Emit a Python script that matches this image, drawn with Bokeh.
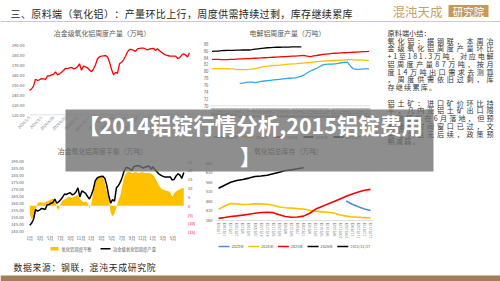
import numpy as np
from bokeh.plotting import figure
from bokeh.models import Range1d
from bokeh.core.properties import value
from bokeh.embed import file_html
from bokeh.resources import INLINE

FONT = value("Noto Sans CJK SC")
nan = float("nan")

# ---------------- texts ----------------
header_title = "三、原料端（氧化铝）：产量环比上行，周度供需持续过剩，库存继续累库"
logo_text = "混沌天成"
logo_box_text = "研究院"
source_note = "数据来源：钢联，混沌天成研究院"
banner_lines = ["【2014铝锭行情分析,2015铝锭费用", "】"]
summary_title = "原料端小结："
summary_lines = [
    ("氧化铝：据钢联，本周冶", True),
    ("金级氧化铝周度产量环比", True),
    ("+1至181.3万吨，对应电解", True),
    ("铝周度产量87万吨，按月", True),
    ("度14万吨出口需求去测算", True),
    ("，周度供需依旧过剩，库", True),
    ("存继续累库。", False),
    ("", False),
    ("铝土矿：进口矿价环比持", True),
    ("平，几内亚铝土矿出口限", True),
    ("制政策拟在6月落地，但预", True),
    ("期落地时间窗口已过，文", True),
    ("易日久且无后续，政策预", True),
    ("期减弱。", False),
]

# ---------------- chart 1: weekly metallurgical alumina output ----------------
c1_title = "冶金级氧化铝周度产量（万吨）"
c1_output = [144.3, 145.8, 148.7, 155.5, 154.3, 155.0, 156.2, 156.0, 155.5, 158.8,
             159.0, 160.0, 160.5, 163.0, 160.0, 161.0, 162.5, 164.3, 166.5, 166.2,
             167.0, 167.5, 166.0, 166.5, 168.0, 171.0, 164.5, 168.7, 168.0, 167.0,
             164.8, 163.0, 166.0, 170.0, 176.0, 178.0, 178.7, 179.0, 179.3, 177.7,
             172.7, 165.5, 160.0, 162.5, 161.5, 171.0, 172.5, 175.0, 178.5, 183.0,
             185.5, 185.3, 184.5, 183.5, 186.0, 186.5, 186.7, 186.7, 185.8, 185.0,
             185.8, 186.2, 186.5, 184.3, 186.0, 184.0, 182.5, 181.0, 180.0, 179.3,
             178.8, 178.7, 178.7, 178.7, 176.5, 177.0, 179.5, 181.0, 180.0, 177.8,
             182.0]
c1_yticks = [120, 130, 140, 150, 160, 170, 180, 190]
c1_xtick_idx = [0, 6, 12, 18, 24, 30, 36, 42, 48, 54, 60, 66, 72, 78]
c1_xtick_labels = ["2024/1/5", "2024/3/1", "2024/4/26", "2024/6/21", "2024/8/16",
                   "2024/10/11", "2024/12/6", "2025/1/31", "2025/3/28", "2025/5/23",
                   "2025/7/18", "2025/9/12", "2025/11/7", "2026/1/2"]

# ---------------- chart 2: weekly electrolytic aluminium output ----------------
c2_title = "电解铝周度产量（万吨）"
c2_weeks = list(range(1, 53))
c2_week_labels = ["第%d周" % w for w in c2_weeks]
c2_2023 = [nan] * 9 + [76.5, 76.6, 76.8, 76.85, 76.9, 76.7, 76.9, 77.1, 77.2, 77.3,
                       77.4, 77.5, 77.6, 77.7, 77.8, 77.9, 78.0, 78.05, 78.1, 78.3,
                       78.6, 79.0, 79.6, 80.1, 80.5, 80.9, 81.4, 81.9, 82.0, 82.1,
                       82.1, 82.2, 82.3, 82.5, 82.6, 82.7, 81.5, 80.7, 80.6, 80.6,
                       80.7, 80.7, 80.7]
c2_2024 = [80.7, 80.75, 80.8, 80.8, 80.8, 80.75, 80.7, 80.7, 80.5, 80.5,
           80.5, 80.5, 80.55, 80.65, 80.8, 81.0, 81.2, 81.35, 81.5, 81.6,
           81.7, 81.75, 81.8, 81.9, 82.0, 82.1, 82.15, 82.2, 82.3, 82.35,
           82.45, 82.5, 82.6, 82.7, 82.8, 82.9, 83.0, 83.05, 83.1, 83.1,
           83.15, 83.2, 83.25, 83.3, 83.4, 83.4, 83.35, 83.3, 83.3, 83.25,
           83.2, 83.1]
c2_2025 = [83.5, 83.5, 83.45, 83.4, 83.4, 83.4, 83.45, 83.5, 83.55, 83.6,
           83.65, 83.7, 83.7, 83.75, 83.8, 83.85, 83.9, 83.95, 84.0, 84.05,
           84.1, 84.15, 84.2, 84.25, 84.3, 84.35, 84.4, 84.45, 84.5, 84.55,
           84.6, 84.4, 84.3, 84.5, 84.6, 84.75, 84.9, 85.0, 85.1, 85.2,
           85.25, 85.3, 85.35, 85.4, 85.45, 85.5, 85.55, 85.6, 85.65, 85.7,
           85.75, 85.8]
c2_2026 = [85.8, 85.85, 85.9, 86.0, 86.05, 86.1, 86.1, 86.1, 86.15, 86.15,
           86.2, 86.2, 86.2, 86.3, 86.45, 86.55, 86.65, 86.75, 86.85, 86.9,
           86.95, 87.0, 87.0, 87.05, 87.05, 87.05, 87.1, 87.1, 87.1, 87.1] + [nan] * 22
c2_yticks = [70, 72, 74, 76, 78, 80, 82, 84, 86, 88]
c2_legend = ["2023年", "2024年", "2025年", "2026年", "2023-2月"]

# ---------------- chart 3: weekly balance ----------------
c3_title = "冶金氧化铝周度平衡（万吨）"
c3_balance = [-5, -7.5, -7, -3, 1.5, 2, 2, 1.5, 2, 2.5,
              3, 3.5, 4, 3, -1, -2.5, 1, 3, 3.5, 4,
              5, 4.8, 4.5, 5, 5.5, 6, 4, 2.8, 2, 2.5,
              1.5, -1.5, 1, 8.5, 12.5, 15.5, 16.8, 17, 16, 13,
              8, 4, -4, -6, -4.5, -1, 3, 5.5, 11, 16,
              18.5, 19, 19, 18.5, 18.7, 19, 18.7, 18.5, 19, 18.8,
              18.5, 18.5, 18.5, 18.2, 17.5, 16, 13.8, 11.5, 10.2, 9.2,
              8.8, 8.5, 8.2, 7.5, 5, 7, 8, 8.8, 9.3, 9.8,
              10]
c3_left_ticks = [140, 145, 150, 155, 160, 165, 170, 175, 180, 185, 190]
c3_right_ticks = [-15, -10, -5, 0, 5, 10, 15, 20, 25]
c3_month_pos = [0, 2, 4, 6, 8, 10, 12, 14, 16, 18, 20, 22, 24, 26, 28]
c3_month_labels = ["1月", "3月", "5月", "7月", "9月", "11月",
                   "1月", "3月", "5月", "7月", "9月", "11月",
                   "1月", "3月", "5月"]
c3_legend = ["氧化铝周度平衡", "冶金级氧化铝周度产量"]

# ---------------- chart 4: total alumina inventory ----------------
c4_title = "氧化铝总库存（万吨）"
c4_dates = ["1月5日", "1月19日", "2月2日", "2月16日", "3月2日", "3月16日", "3月30日",
            "4月13日", "4月27日", "5月11日", "5月25日", "6月8日", "6月22日", "7月6日",
            "7月20日", "8月3日", "8月17日", "8月31日", "9月14日", "9月28日", "10月12日",
            "10月26日", "11月9日", "11月23日", "12月7日", "12月21日"]
c4_2023 = [nan] * 21 + [462, 445, 432, 420, 412]
c4_2024 = [418, 436, 449, 447, 444, 445, 447, 447, 445, 440, 431, 427, 425, 422, 420,
           414, 409, 405, 403, 399, 389, 383, 379, 377, 375, 373]
c4_2025 = [371, 376, 381, 384, 388, 393, 398, 402, 403, 401, 390, 381, 377, 378, 383,
           398, 420, 433, 447, 459, 473, 487, 499, 509, 518, 523]
c4_2026 = [529, 545, 560, 569, 575, 582, 590, 593, 597, 605, 613, 622, 625, 631, 636] + [nan] * 11
c4_yticks = [360, 410, 460, 510, 560, 610, 660]
c4_legend = ["2023年", "2024年", "2025年", "2026年", "2023/11/17"]

# ---------------- helpers ----------------
def char_em(c):
    if ord(c) >= 0x2E80 or c in "，：。、（）【】":
        return 1.0
    if c in ".,":
        return 0.28
    return 0.56


def spaced(text, x0, y, fs, width=None, spacing=0.0):
    ws = [char_em(c) * fs for c in text]
    if width is not None and len(text) > 1:
        spacing = (width - sum(ws)) / (len(text) - 1)
    xs, x = [], x0
    for w in ws:
        xs.append(x)
        x += w + spacing
    return xs, [y] * len(text), list(text)


def txt(target, x, y, t, size, color="#404040", align="left", baseline="middle",
        angle=0.0, bold=False, x_offset=0, y_offset=0):
    target.text(x=x, y=y, text=t, text_font=FONT, text_font_size=f"{size}px",
                text_color=color, text_align=align, text_baseline=baseline, angle=angle,
                text_font_style="bold" if bold else "normal",
                x_offset=x_offset, y_offset=y_offset)


AX = "#595959"

p = figure(width=500, height=281, x_range=Range1d(0, 500), y_range=Range1d(281, 0),
           output_backend="svg", toolbar_location=None, min_border=0,
           x_axis_location=None, y_axis_location=None)
p.grid.visible = False
p.outline_line_color = None
p.background_fill_color = "white"
p.border_fill_color = "white"

# ---------------- slide frame ----------------
hx, hy, hc = spaced(header_title, 10, 13.3, 10, width=342)
txt(p, hx, hy, hc, 10, "#262626")
p.segment(x0=[0], y0=[21], x1=[500], y1=[21], line_color="#dcc9a6", line_width=1)
txt(p, [392], [11], [logo_text], 12.5, "#c9a063")
p.quad(left=[448], right=[488], top=[4.5], bottom=[16.5], fill_color="#c49a5c", line_color=None)
txt(p, [468], [10.8], [logo_box_text], 10.5, "white", align="center")
p.quad(left=[0], right=[500], top=[275], bottom=[281], fill_color="#a08055", line_color=None)
sx, sy, sc = spaced(source_note, 13, 267, 8.8, width=142)
txt(p, sx, sy, sc, 8.8, "#262626")

# ---------------- chart 1 ----------------
n1 = len(c1_output)
c1_x = list(range(n1))
s1 = p.subplot(x_source=Range1d(0, n1 - 1), y_source=Range1d(c1_yticks[0], c1_yticks[-1]),
               x_target=Range1d(29, 189), y_target=Range1d(114.3, 44.3))
txt(p, [101.6], [32.3], [c1_title], 6.9, AX, align="center")
s1.segment(x0=[0], y0=[c1_yticks[0]], x1=[n1 - 1], y1=[c1_yticks[0]],
           line_color="#d9d9d9", line_width=0.8)
s1.line(c1_x, c1_output, line_color="#ff0000", line_width=1.3)
txt(s1, [0] * len(c1_yticks), c1_yticks, ["%.2f" % v for v in c1_yticks], 4.2, AX,
    align="right", x_offset=-5)
txt(s1, c1_xtick_idx, [c1_yticks[0]] * len(c1_xtick_idx), c1_xtick_labels, 3.8, "#7f7f7f",
    align="right", angle=np.pi / 4, y_offset=2)

# ---------------- chart 2 ----------------
s2 = p.subplot(x_source=Range1d(0.5, 52.5), y_source=Range1d(c2_yticks[0], c2_yticks[-1]),
               x_target=Range1d(210, 370), y_target=Range1d(105.3, 43.3))
txt(p, [287], [32], [c2_title], 6.9, AX, align="center")
s2.segment(x0=[0.5], y0=[c2_yticks[0]], x1=[52.5], y1=[c2_yticks[0]],
           line_color="#d9d9d9", line_width=0.8)
c2_colors = ["#2ea8e6", "#ffc000", "#ff0000", "#000000"]
for ser, col in zip([c2_2023, c2_2024, c2_2025, c2_2026], c2_colors):
    s2.line(c2_weeks, ser, line_color=col, line_width=1.3)
txt(s2, [0.5] * len(c2_yticks), c2_yticks, [str(v) for v in c2_yticks], 4.3, AX,
    align="right", x_offset=-2)
txt(s2, c2_weeks, [c2_yticks[0]] * 52, c2_week_labels, 3.3, "#7f7f7f",
    align="right", angle=np.pi / 2, y_offset=2)
for i, (lab, col) in enumerate(zip(c2_legend, c2_colors + ["#000000"])):
    lx = 213 + 30 * i
    p.segment(x0=[lx], y0=[136.5], x1=[lx + 10], y1=[136.5], line_color=col, line_width=1.3)
    txt(p, [lx + 12], [136.5], [lab], 3.8, AX)

# ---------------- chart 3 ----------------
n3 = len(c3_balance)
c3_x = list(range(n3))
s3l = p.subplot(x_source=Range1d(0, n3 - 1), y_source=Range1d(c3_left_ticks[0], c3_left_ticks[-1]),
                x_target=Range1d(29.3, 183.3), y_target=Range1d(230.7, 160.7))
s3r = p.subplot(x_source=Range1d(0, n3 - 1), y_source=Range1d(c3_right_ticks[0], c3_right_ticks[-1]),
                x_target=Range1d(29.3, 183.3), y_target=Range1d(231.7, 161.0))
s3m = p.subplot(x_source=Range1d(0, 30.1), y_source=Range1d(c3_left_ticks[0], c3_left_ticks[-1]),
                x_target=Range1d(29.3, 183.3), y_target=Range1d(230.7, 160.7))
txt(p, [102], [150], [c3_title], 6.9, AX, align="center")
s3r.varea(x=c3_x, y1=[0] * n3, y2=c3_balance, fill_color="#ffc000")
s3l.line(c3_x, c1_output, line_color="#000000", line_width=1.5)
txt(s3l, [0] * len(c3_left_ticks), c3_left_ticks, ["%.2f" % v for v in c3_left_ticks], 4.2, AX,
    align="right", x_offset=-6)
txt(s3r, [n3 - 1] * len(c3_right_ticks), c3_right_ticks,
    [("(%d)" % -v) if v < 0 else str(v) for v in c3_right_ticks], 4.2,
    ["#ff0000" if v < 0 else AX for v in c3_right_ticks], align="left", x_offset=4)
txt(s3m, c3_month_pos, [c3_left_ticks[0]] * len(c3_month_pos), c3_month_labels, 4.2, AX,
    align="center", y_offset=7)
p.quad(left=[50], right=[58], top=[246.5], bottom=[250], fill_color="#ffc000", line_color=None)
txt(p, [61], [248.3], [c3_legend[0]], 4.3, AX)
p.segment(x0=[100], y0=[248.3], x1=[110], y1=[248.3], line_color="#000000", line_width=1.5)
txt(p, [112.5], [248.3], [c3_legend[1]], 4.3, AX)

# ---------------- chart 4 ----------------
n4 = len(c4_dates)
c4_x = list(range(n4))
s4 = p.subplot(x_source=Range1d(-0.5, n4 - 0.5), y_source=Range1d(c4_yticks[0], c4_yticks[-1]),
               x_target=Range1d(215, 373), y_target=Range1d(220, 162.7))
txt(p, [288], [150], [c4_title], 6.9, AX, align="center")
s4.segment(x0=[-0.5], y0=[c4_yticks[0]], x1=[n4 - 0.5], y1=[c4_yticks[0]],
           line_color="#d9d9d9", line_width=0.8)
c4_colors = ["#4a90d9", "#ffc000", "#ff0000", "#000000"]
for ser, col in zip([c4_2023, c4_2024, c4_2025, c4_2026], c4_colors):
    s4.line(c4_x, ser, line_color=col, line_width=1.6)
txt(s4, [-0.5] * len(c4_yticks), c4_yticks, [str(v) for v in c4_yticks], 4.1, AX,
    align="right", x_offset=-3)
txt(s4, c4_x, [c4_yticks[0]] * n4, c4_dates, 3.8, "#7f7f7f",
    align="right", angle=np.pi / 2, y_offset=2)
for i, (lab, col) in enumerate(zip(c4_legend, c4_colors + ["#000000"])):
    lx = 218 + 29.7 * i
    p.segment(x0=[lx], y0=[246], x1=[lx + 11], y1=[246], line_color=col, line_width=1.3)
    txt(p, [lx + 13], [246], [lab], 3.8, AX)

# ---------------- summary panel ----------------
px_, py_, pc_ = spaced(summary_title, 387, 32.2, 7.2)
allx, ally, allc = list(px_), list(py_), list(pc_)
for k, (line, just) in enumerate(summary_lines):
    if not line:
        continue
    y = 40 + 7.75 * k
    if just:
        lx, lyy, lc = spaced(line, 387, y, 7.1, width=106)
    else:
        lx, lyy, lc = spaced(line, 387, y, 7.1, spacing=1.2)
    allx += lx
    ally += lyy
    allc += lc
txt(p, allx, ally, allc, 7.1, "#333333")

# ---------------- overlay banner ----------------
p.quad(left=[65], right=[433], top=[109], bottom=[171], fill_color="#6e6e6e",
       fill_alpha=0.78, line_color=None)
txt(p, [250, 250], [124, 155], banner_lines, 21.5, "white", align="center", bold=True)

open("out.html", "w").write(file_html(p, INLINE))
